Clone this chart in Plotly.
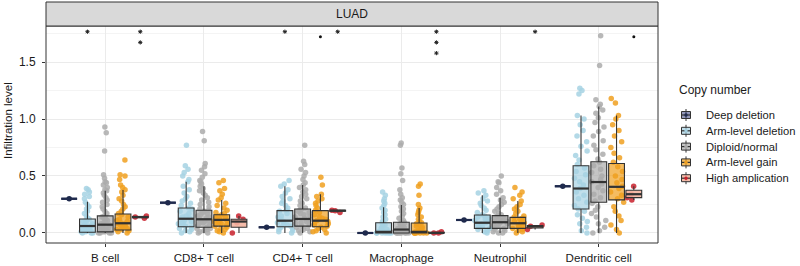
import plotly.graph_objects as go

cells = ["B cell", "CD8+ T cell", "CD4+ T cell", "Macrophage", "Neutrophil", "Dendritic cell"]
groups = ["Deep deletion", "Arm-level deletion", "Diploid/normal", "Arm-level gain", "High amplication"]

# ---- sample points, one list per cell type ----
deep_pts = [[0.30], [0.266], [0.05], [0.0], [0.114], [0.41]]

armdel_pts = [
    [0, 0, 0, 0.01, 0.01, 0.02, 0.02, 0.03, 0.03, 0.04, 0.05, 0.05, 0.06, 0.06, 0.07, 0.08, 0.09, 0.1, 0.11, 0.12,
     0.12, 0.13, 0.15, 0.17, 0.19, 0.21, 0.23, 0.25, 0.27, 0.3, 0.32, 0.34, 0.36, 0.38, 0.39],
    [0, 0.01, 0.02, 0.03, 0.04, 0.05, 0.06, 0.07, 0.08, 0.09, 0.1, 0.11, 0.12, 0.13, 0.14, 0.15, 0.17, 0.19, 0.21,
     0.22, 0.24, 0.26, 0.28, 0.3, 0.32, 0.35, 0.38, 0.41, 0.45, 0.47, 0.5, 0.53, 0.56, 0.59, 0.77],
    [0, 0.01, 0.02, 0.03, 0.04, 0.05, 0.06, 0.07, 0.08, 0.09, 0.1, 0.11, 0.12, 0.13, 0.14, 0.15, 0.17, 0.19, 0.2,
     0.22, 0.24, 0.26, 0.28, 0.3, 0.32, 0.35, 0.38, 0.41, 0.43, 0.46],
    [0, 0, 0, 0, 0, 0, 0, 0.01, 0.01, 0.01, 0.02, 0.03, 0.04, 0.05, 0.06, 0.07, 0.08, 0.09, 0.1, 0.12, 0.14, 0.16,
     0.18, 0.2, 0.22, 0.24, 0.26, 0.28, 0.3, 0.33, 0.36],
    [0, 0.01, 0.02, 0.03, 0.04, 0.05, 0.06, 0.07, 0.08, 0.09, 0.1, 0.11, 0.12, 0.13, 0.14, 0.15, 0.16, 0.18, 0.2,
     0.22, 0.24, 0.26, 0.28, 0.3, 0.33, 0.35, 0.37],
    [0, 0.02, 0.05, 0.08, 0.1, 0.13, 0.16, 0.19, 0.21, 0.24, 0.27, 0.3, 0.33, 0.36, 0.39, 0.42, 0.45, 0.48, 0.51,
     0.54, 0.57, 0.6, 0.64, 0.68, 0.72, 0.76, 0.8, 0.85, 0.9, 0.95, 1.0, 1.03, 1.22, 1.25, 1.27],
]

diploid_pts = [
    [0, 0, 0, 0, 0.01, 0.01, 0.01, 0.02, 0.02, 0.03, 0.03, 0.04, 0.05, 0.05, 0.06, 0.07, 0.07, 0.08, 0.09, 0.1,
     0.11, 0.12, 0.13, 0.14, 0.15, 0.15, 0.17, 0.19, 0.21, 0.23, 0.25, 0.27, 0.29, 0.31, 0.33, 0.35, 0.37, 0.38,
     0.4, 0.42, 0.44, 0.45, 0.48, 0.51, 0.72, 0.88, 0.93],
    [0, 0, 0.01, 0.02, 0.03, 0.04, 0.04, 0.05, 0.06, 0.07, 0.08, 0.09, 0.1, 0.1, 0.11, 0.12, 0.13, 0.14, 0.15,
     0.16, 0.17, 0.18, 0.19, 0.2, 0.21, 0.23, 0.25, 0.27, 0.29, 0.31, 0.33, 0.35, 0.37, 0.39, 0.41, 0.43, 0.45,
     0.46, 0.49, 0.52, 0.55, 0.58, 0.61, 0.81, 0.89],
    [0, 0.01, 0.02, 0.03, 0.04, 0.05, 0.06, 0.07, 0.08, 0.09, 0.1, 0.11, 0.12, 0.12, 0.13, 0.14, 0.15, 0.16, 0.17,
     0.18, 0.19, 0.2, 0.21, 0.22, 0.24, 0.26, 0.28, 0.3, 0.32, 0.34, 0.36, 0.38, 0.4, 0.42, 0.44, 0.47, 0.5, 0.53,
     0.56, 0.6, 0.63, 0.77],
    [0, 0, 0, 0, 0, 0, 0, 0, 0.01, 0.01, 0.02, 0.02, 0.03, 0.03, 0.04, 0.05, 0.06, 0.07, 0.08, 0.09, 0.1, 0.11,
     0.13, 0.15, 0.17, 0.19, 0.21, 0.23, 0.25, 0.27, 0.29, 0.31, 0.34, 0.38, 0.46, 0.52, 0.57, 0.77, 0.79],
    [0, 0, 0.01, 0.02, 0.03, 0.04, 0.05, 0.06, 0.07, 0.08, 0.09, 0.1, 0.1, 0.11, 0.12, 0.13, 0.14, 0.15, 0.16,
     0.17, 0.19, 0.21, 0.23, 0.25, 0.27, 0.29, 0.31, 0.34, 0.37, 0.4, 0.44, 0.45, 0.5],
    [0, 0.02, 0.05, 0.08, 0.11, 0.14, 0.17, 0.2, 0.23, 0.26, 0.28, 0.31, 0.34, 0.37, 0.4, 0.43, 0.45, 0.47, 0.5,
     0.53, 0.56, 0.59, 0.62, 0.65, 0.69, 0.73, 0.77, 0.81, 0.85, 0.89, 0.93, 0.97, 1.01, 1.05, 1.08, 1.11, 1.13,
     1.17, 1.47, 1.73],
]

gain_pts = [
    [0, 0.01, 0.02, 0.03, 0.03, 0.04, 0.05, 0.06, 0.07, 0.08, 0.08, 0.09, 0.1, 0.11, 0.12, 0.14, 0.16, 0.17, 0.19,
     0.21, 0.23, 0.25, 0.28, 0.3, 0.33, 0.36, 0.38, 0.4, 0.42, 0.47, 0.5, 0.51, 0.64],
    [0, 0.01, 0.02, 0.03, 0.04, 0.05, 0.06, 0.07, 0.08, 0.09, 0.1, 0.1, 0.11, 0.12, 0.13, 0.14, 0.15, 0.16, 0.17,
     0.18, 0.2, 0.22, 0.24, 0.26, 0.29, 0.31, 0.34, 0.37, 0.39, 0.44, 0.46],
    [0, 0.01, 0.02, 0.03, 0.04, 0.05, 0.06, 0.07, 0.08, 0.09, 0.1, 0.11, 0.12, 0.13, 0.14, 0.16, 0.18, 0.2, 0.22,
     0.24, 0.26, 0.28, 0.3, 0.32, 0.34, 0.42, 0.49],
    [0, 0, 0, 0, 0, 0, 0, 0.01, 0.01, 0.01, 0.02, 0.03, 0.04, 0.05, 0.06, 0.07, 0.08, 0.09, 0.1, 0.12, 0.14, 0.16,
     0.18, 0.2, 0.22, 0.25, 0.33, 0.41, 0.43],
    [0, 0.01, 0.02, 0.03, 0.04, 0.05, 0.06, 0.07, 0.08, 0.09, 0.1, 0.11, 0.12, 0.13, 0.14, 0.15, 0.17, 0.19, 0.21,
     0.23, 0.25, 0.28, 0.3, 0.33, 0.36, 0.4],
    [0, 0.03, 0.07, 0.11, 0.15, 0.19, 0.23, 0.27, 0.3, 0.33, 0.36, 0.39, 0.41, 0.44, 0.47, 0.5, 0.54, 0.58, 0.62,
     0.66, 0.7, 0.75, 0.8, 0.85, 0.9, 0.95, 1.0, 1.03, 1.14, 1.18],
]

highamp_pts = [[0.13, 0.14, 0.15], [0.0, 0.09, 0.12, 0.15], [0.18, 0.195, 0.2], [0.0, 0.0, 0.01],
               [0.03, 0.06, 0.07], [0.29, 0.31, 0.34, 0.41]]

# ---- box statistics ----
deep_q1 = [0.30, 0.266, 0.05, 0.0, 0.114, 0.41]
deep_med = [0.30, 0.266, 0.05, 0.0, 0.114, 0.41]
deep_q3 = [0.30, 0.266, 0.05, 0.0, 0.114, 0.41]
deep_lo = [0.30, 0.266, 0.05, 0.0, 0.114, 0.41]
deep_hi = [0.30, 0.266, 0.05, 0.0, 0.114, 0.41]

armdel_q1 = [0.006, 0.055, 0.055, 0.0, 0.04, 0.21]
armdel_med = [0.061, 0.125, 0.108, 0.01, 0.09, 0.39]
armdel_q3 = [0.123, 0.219, 0.196, 0.09, 0.158, 0.59]
armdel_lo = [0.0, 0.0, 0.0, 0.0, 0.0, 0.0]
armdel_hi = [0.275, 0.45, 0.41, 0.225, 0.33, 1.03]

diploid_q1 = [0.01, 0.05, 0.06, 0.0, 0.04, 0.27]
diploid_med = [0.073, 0.12, 0.123, 0.03, 0.094, 0.447]
diploid_q3 = [0.15, 0.20, 0.21, 0.094, 0.152, 0.625]
diploid_lo = [0.0, 0.0, 0.0, 0.0, 0.0, 0.0]
diploid_hi = [0.37, 0.41, 0.42, 0.245, 0.31, 1.11]

gain_q1 = [0.026, 0.06, 0.055, 0.0, 0.04, 0.29]
gain_med = [0.085, 0.115, 0.108, 0.01, 0.085, 0.405]
gain_q3 = [0.167, 0.16, 0.196, 0.088, 0.137, 0.61]
gain_lo = [0.0, 0.0, 0.0, 0.0, 0.0, 0.0]
gain_hi = [0.377, 0.29, 0.34, 0.22, 0.28, 1.03]

highamp_q1 = [0.135, 0.05, 0.19, 0.0, 0.045, 0.31]
highamp_med = [0.14, 0.10, 0.196, 0.0, 0.06, 0.34]
highamp_q3 = [0.145, 0.12, 0.2, 0.005, 0.065, 0.375]
highamp_lo = [0.13, 0.0, 0.18, 0.0, 0.03, 0.29]
highamp_hi = [0.15, 0.15, 0.2, 0.01, 0.07, 0.41]

# ---- significance marks: cell index, group index, label ----
sig_cell = [0, 0, 2, 2, 2, 3, 4, 5]
sig_group = [1, 4, 1, 3, 4, 4, 4, 4]
sig_label = ["*", "**", "*", ".", "*", "***", "*", "."]

# ---- styling ----
FONT = "Liberation Sans, Arial, Helvetica, sans-serif"
point_colors = ["#1f2a4d", "#a6d2e3", "#ababab", "#f0a020", "#c8202c"]
box_fills = ["rgba(60,70,130,0.55)", "rgba(166,210,227,0.7)", "rgba(171,171,171,0.7)",
             "rgba(240,160,32,0.7)", "rgba(244,180,160,0.9)"]
box_lines = ["#1f2a4d", "#333333", "#333333", "#333333", "#333333"]
offsets = [-0.365, -0.18, 0.0, 0.18, 0.355]
BOXW = 0.16

pts_all = [deep_pts, armdel_pts, diploid_pts, gain_pts, highamp_pts]
stats_all = [
    (deep_q1, deep_med, deep_q3, deep_lo, deep_hi),
    (armdel_q1, armdel_med, armdel_q3, armdel_lo, armdel_hi),
    (diploid_q1, diploid_med, diploid_q3, diploid_lo, diploid_hi),
    (gain_q1, gain_med, gain_q3, gain_lo, gain_hi),
    (highamp_q1, highamp_med, highamp_q3, highamp_lo, highamp_hi),
]

fig = go.Figure()

# jittered points
for g, pts in enumerate(pts_all):
    xs, ys = [], []
    for c, vals in enumerate(pts):
        xs += [c + offsets[g]] * len(vals)
        ys += vals
    fig.add_trace(go.Box(
        x=xs, y=ys, orientation="v", boxpoints="all", jitter=1 if g != 0 else 0, pointpos=0,
        width=BOXW, fillcolor="rgba(0,0,0,0)", line=dict(width=0),
        marker=dict(color=point_colors[g], size=5.5, opacity=0.85 if g != 0 else 1),
        showlegend=False, hoverinfo="skip"))

# boxes (precomputed stats)
for g, (q1, med, q3, lo, hi) in enumerate(stats_all):
    fig.add_trace(go.Box(
        x=[c + offsets[g] for c in range(len(cells))], q1=q1, median=med, q3=q3,
        lowerfence=lo, upperfence=hi, orientation="v", boxpoints=False, width=BOXW,
        whiskerwidth=0, fillcolor=box_fills[g],
        line=dict(color=box_lines[g], width=1.1 if g != 0 else 2), name=groups[g],
        showlegend=False, hoverinfo="skip"))

# thicker median lines
for g, (q1, med, q3, lo, hi) in enumerate(stats_all):
    mx, my = [], []
    for c in range(len(cells)):
        p = c + offsets[g]
        mx += [p - BOXW / 2, p + BOXW / 2, None]
        my += [med[c], med[c], None]
    fig.add_trace(go.Scatter(x=mx, y=my, mode="lines",
                             line=dict(color=box_lines[g], width=2.2),
                             showlegend=False, hoverinfo="skip"))

# significance marks
sx, sy, sd = [], [], []
for c, g, lab in zip(sig_cell, sig_group, sig_label):
    p = c + offsets[g]
    if lab == ".":
        sd.append((p, 1.722))
    else:
        for k in range(len(lab)):
            sx.append(p)
            sy.append(1.766 - 0.094 * k)
fig.add_trace(go.Scatter(x=sx, y=sy, mode="markers",
                         marker=dict(symbol="asterisk-open", size=3.5, color="#222222",
                                     line=dict(color="#222222", width=1)),
                         showlegend=False, hoverinfo="skip"))
fig.add_trace(go.Scatter(x=[d[0] for d in sd], y=[d[1] for d in sd], mode="markers",
                         marker=dict(symbol="circle", size=3, color="#111111"),
                         showlegend=False, hoverinfo="skip"))

# ---- layout geometry (pixels) ----
W, H = 800, 266
L, R, T, B = 46, 658, 26, 243
PW, PH = R - L, B - T


def px(x):
    return (x - L) / PW


def py(y):
    return (B - y) / PH


shapes = []
annotations = []

# panel border
shapes.append(dict(type="rect", xref="paper", yref="paper", x0=0, x1=1, y0=0, y1=1,
                   line=dict(color="#333333", width=1), layer="above"))
# facet strip
shapes.append(dict(type="rect", xref="paper", yref="paper", x0=0, x1=1, y0=1, y1=py(2),
                   fillcolor="#d9d9d9", line=dict(color="#333333", width=1)))
annotations.append(dict(text="LUAD", xref="paper", yref="paper", x=0.5, y=py(14.5),
                        showarrow=False, font=dict(size=12, color="#1a1a1a", family=FONT),
                        xanchor="center", yanchor="middle"))
# y axis title
annotations.append(dict(text="Infiltration level", xref="paper", yref="paper", x=px(8), y=py(121),
                        textangle=-90, showarrow=False, font=dict(size=11.5, color="#1a1a1a", family=FONT),
                        xanchor="center", yanchor="middle"))

# legend (drawn manually)
annotations.append(dict(text="Copy number", xref="paper", yref="paper", x=px(677), y=py(90),
                        showarrow=False, font=dict(size=12, color="#1a1a1a", family=FONT),
                        xanchor="left", yanchor="middle"))
leg_y = [115, 130.8, 146.6, 162.4, 178.2]
icx = 686
for g, name in enumerate(groups):
    yc = leg_y[g]
    shapes.append(dict(type="line", xref="paper", yref="paper", x0=px(icx), x1=px(icx),
                       y0=py(yc - 6), y1=py(yc + 6), line=dict(color="#333333", width=1)))
    shapes.append(dict(type="rect", xref="paper", yref="paper", x0=px(icx - 4.5), x1=px(icx + 4.5),
                       y0=py(yc - 3.5), y1=py(yc + 3.5), fillcolor=box_fills[g],
                       line=dict(color="#333333", width=1)))
    shapes.append(dict(type="line", xref="paper", yref="paper", x0=px(icx - 4.5), x1=px(icx + 4.5),
                       y0=py(yc), y1=py(yc), line=dict(color="#333333", width=1.2)))
    shapes.append(dict(type="circle", xref="paper", yref="paper", x0=px(icx - 1.7), x1=px(icx + 1.7),
                       y0=py(yc - 1.7), y1=py(yc + 1.7), fillcolor=point_colors[g],
                       line=dict(color=point_colors[g], width=0)))
    annotations.append(dict(text=name, xref="paper", yref="paper", x=px(704), y=py(yc),
                            showarrow=False, font=dict(size=11.2, color="#1a1a1a", family=FONT),
                            xanchor="left", yanchor="middle"))

fig.update_layout(
    width=W, height=H,
    margin=dict(l=L, r=W - R, t=T, b=H - B, pad=0, autoexpand=False),
    paper_bgcolor="white", plot_bgcolor="white",
    font=dict(family=FONT, size=12, color="#333333"),
    showlegend=False,
    boxmode="overlay",
    shapes=shapes, annotations=annotations,
    xaxis=dict(range=[-0.6, 5.6], tickmode="array", tickvals=list(range(len(cells))), ticktext=cells,
               showgrid=True, gridcolor="#ebebeb", gridwidth=1, zeroline=False, automargin=False,
               ticks="outside", ticklen=3, tickcolor="#333333", tickwidth=1, ticklabelstandoff=1,
               tickfont=dict(size=11.6, color="#1a1a1a", family=FONT), showline=False,
               fixedrange=True),
    yaxis=dict(range=[-0.088, 1.816], tickmode="array", tickvals=[0, 0.5, 1.0, 1.5],
               ticktext=["0.0", "0.5", "1.0", "1.5"],
               showgrid=True, gridcolor="#ebebeb", gridwidth=1, zeroline=False, automargin=False,
               minor=dict(tickvals=[0.25, 0.75, 1.25, 1.75], showgrid=True, gridcolor="#f4f4f4", gridwidth=1),
               ticks="outside", ticklen=3, tickcolor="#333333", tickwidth=1, ticklabelstandoff=4,
               tickfont=dict(size=12, color="#1a1a1a", family=FONT), showline=False,
               fixedrange=True),
)

fig.write_html("out.html", config={"displayModeBar": False},
               post_script="document.body.style.margin='0';document.body.style.overflow='hidden';")
